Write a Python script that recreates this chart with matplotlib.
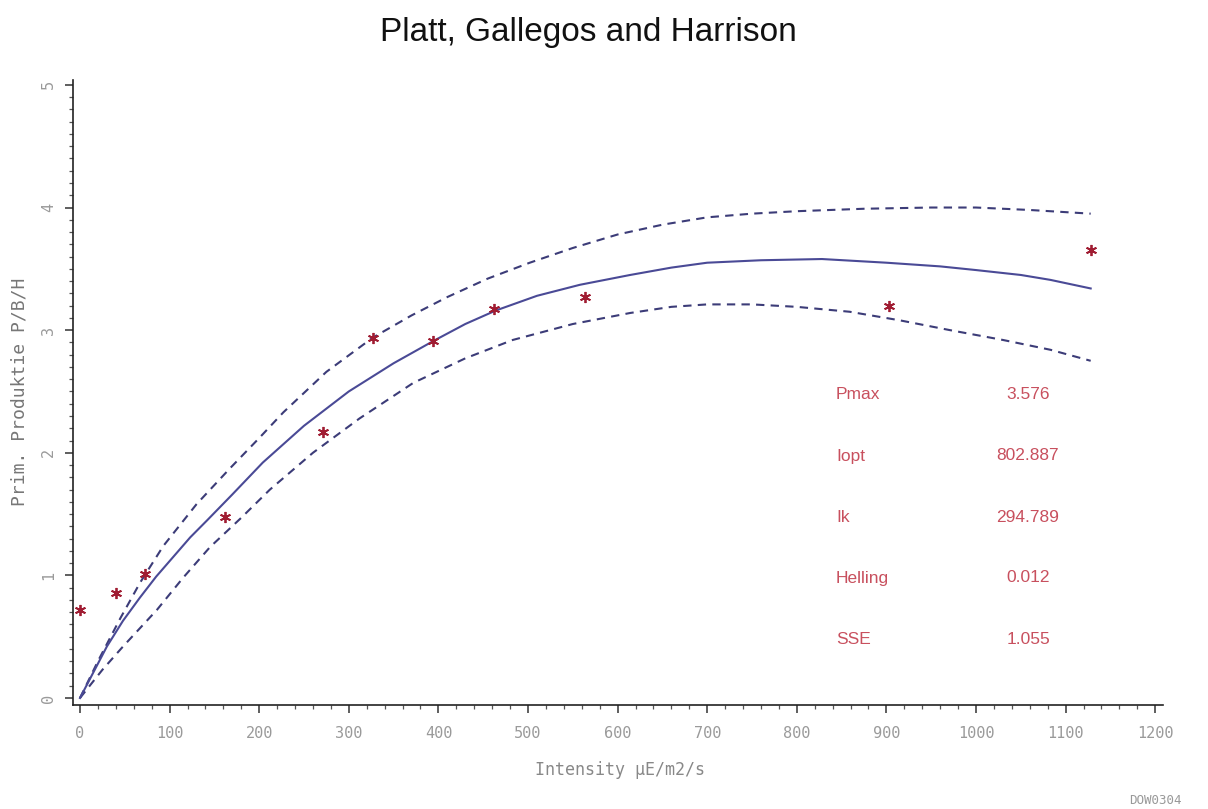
import matplotlib
matplotlib.use("Agg")
import matplotlib.pyplot as plt
from matplotlib.ticker import MultipleLocator

# Observations
intensity = [0, 40, 72, 162, 271, 327, 394, 462, 564, 903, 1128]
production = [0.72, 0.86, 1.01, 1.48, 2.17, 2.94, 2.91, 3.17, 3.27, 3.20, 3.65]

# Fitted curve
fit_x = [0, 15, 30, 48, 67, 85, 104, 123, 142, 170, 204, 250, 300, 350, 394, 430,
         464, 510, 558, 614, 660, 700, 760, 828, 900, 960, 1000, 1050, 1083, 1128]
fit_y = [0, 0.21, 0.42, 0.63, 0.82, 0.99, 1.15, 1.31, 1.45, 1.66, 1.92, 2.22, 2.50,
         2.73, 2.91, 3.05, 3.16, 3.28, 3.37, 3.45, 3.51, 3.55, 3.57, 3.58, 3.55, 3.52,
         3.49, 3.45, 3.41, 3.34]

# Upper confidence curve
up_x = [0, 20, 45, 67, 93, 130, 167, 200, 227, 275, 327, 370, 410, 455, 502, 550,
        600, 650, 700, 750, 800, 875, 950, 1000, 1060, 1128]
up_y = [0, 0.30, 0.65, 0.94, 1.24, 1.58, 1.87, 2.12, 2.33, 2.66, 2.94, 3.12, 3.27,
        3.42, 3.55, 3.67, 3.78, 3.86, 3.92, 3.95, 3.97, 3.99, 4.00, 4.00, 3.98, 3.95]

# Lower confidence curve
lo_x = [0, 25, 48, 86, 115, 145, 180, 212, 260, 312, 372, 430, 483, 550, 614, 660,
        700, 750, 800, 859, 915, 971, 1030, 1083, 1128]
lo_y = [0, 0.23, 0.42, 0.72, 0.98, 1.23, 1.47, 1.70, 2.00, 2.28, 2.57, 2.77, 2.92,
        3.05, 3.14, 3.19, 3.21, 3.21, 3.19, 3.15, 3.08, 3.00, 2.92, 2.84, 2.75]

stat_names = ["Pmax", "Iopt", "Ik", "Helling", "SSE"]
stat_values = ["3.576", "802.887", "294.789", "0.012", "1.055"]

x_ticks = list(range(0, 1201, 100))
y_ticks = [0, 1, 2, 3, 4, 5]

W, H = 1208, 809
fig = plt.figure(figsize=(W / 100, H / 100), dpi=100)
ax = fig.add_axes([73 / W, 1 - 705 / H, 1090 / W, 625 / H])

ax.plot(up_x, up_y, color="#3c3c78", lw=1.5, ls=(0, (4, 3)))
ax.plot(lo_x, lo_y, color="#3c3c78", lw=1.5, ls=(0, (4, 3)))
ax.plot(fit_x, fit_y, color="#4a4a96", lw=1.5)
ax.plot(intensity, production, ls="none", marker=(6, 2, 0), ms=8, mew=1.3,
        color="#a01c32")

ax.set_xlim(-7.8, 1208.7)
ax.set_ylim(-0.057, 5.04)
for s in ["top", "right"]:
    ax.spines[s].set_visible(False)
for s in ["left", "bottom"]:
    ax.spines[s].set_color("#222222")
    ax.spines[s].set_linewidth(1.2)

ax.set_xticks(x_ticks)
ax.set_yticks(y_ticks)
ax.xaxis.set_minor_locator(MultipleLocator(20))
ax.yaxis.set_minor_locator(MultipleLocator(0.1))
ax.tick_params(which="major", length=6, width=1.1, color="#333333",
               labelsize=11, labelcolor="#9a9a9a")
ax.tick_params(which="minor", length=3, width=0.9, color="#555555")
ax.tick_params(axis="x", pad=9)
ax.tick_params(axis="y", pad=6)
for lab in ax.get_xticklabels() + ax.get_yticklabels():
    lab.set_family("DejaVu Sans Mono")
for lab in ax.get_yticklabels():
    lab.set_rotation(90)
    lab.set_va("center")

fig.text(588 / W, 1 - 33 / H, "Platt, Gallegos and Harrison", ha="center", va="center",
         fontsize=24, family="Liberation Sans", color="#111111")
fig.text(20 / W, 1 - 392 / H, "Prim. Produktie P/B/H", rotation=90, ha="center", va="center",
         fontsize=13, family="DejaVu Sans Mono", color="#777777")
fig.text(620 / W, 1 - 770 / H, "Intensity µE/m2/s", ha="center", va="center",
         fontsize=12, family="DejaVu Sans Mono", color="#888888")
fig.text(1155 / W, 1 - 800 / H, "DOW0304", ha="center", va="center",
         fontsize=9, family="DejaVu Sans Mono", color="#999999")

row_y = [394, 456, 517, 578, 640]
for name, val, yy in zip(stat_names, stat_values, row_y):
    fig.text(836 / W, 1 - yy / H, name, ha="left", va="center", fontsize=12.5,
             family="Liberation Sans", color="#c8505e")
    fig.text(1028 / W, 1 - yy / H, val, ha="center", va="center", fontsize=12.5,
             family="Liberation Sans", color="#c8505e")

fig.savefig("out.png", dpi=100, facecolor="white")
